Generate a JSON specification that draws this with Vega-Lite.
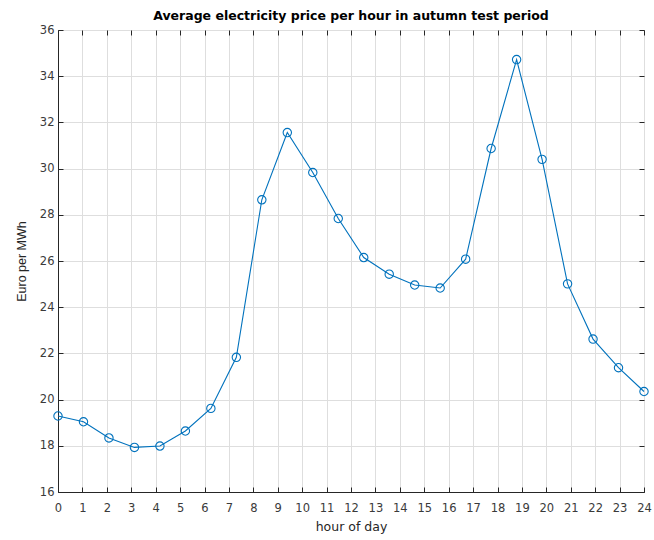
{
  "$schema": "https://vega.github.io/schema/vega-lite/v6.json",
  "width": 586,
  "height": 462,
  "autosize": {"type": "none"},
  "padding": {"left": 58, "top": 30, "right": 10, "bottom": 48},
  "background": "white",
  "title": {"text": "Average electricity price per hour in autumn test period", "font": "DejaVu Sans", "fontSize": 12.5, "fontWeight": "bold", "color": "#000000", "offset": 2, "anchor": "middle"},
  "data": {"values": [
    {"hour": 0.0, "price": 19.29},
    {"hour": 1.0435, "price": 19.04},
    {"hour": 2.0870, "price": 18.34},
    {"hour": 3.1304, "price": 17.93},
    {"hour": 4.1739, "price": 17.99},
    {"hour": 5.2174, "price": 18.64},
    {"hour": 6.2609, "price": 19.62},
    {"hour": 7.3043, "price": 21.83},
    {"hour": 8.3478, "price": 28.65},
    {"hour": 9.3913, "price": 31.56},
    {"hour": 10.4348, "price": 29.83},
    {"hour": 11.4783, "price": 27.84},
    {"hour": 12.5217, "price": 26.15},
    {"hour": 13.5652, "price": 25.43},
    {"hour": 14.6087, "price": 24.96},
    {"hour": 15.6522, "price": 24.83},
    {"hour": 16.6957, "price": 26.08},
    {"hour": 17.7391, "price": 30.87},
    {"hour": 18.7826, "price": 34.72},
    {"hour": 19.8261, "price": 30.40},
    {"hour": 20.8696, "price": 25.01},
    {"hour": 21.9130, "price": 22.62},
    {"hour": 22.9565, "price": 21.38},
    {"hour": 24.0, "price": 20.35}
  ]},
  "config": {
    "view": {"stroke": "#262626", "strokeWidth": 1},
    "axis": {"labelFont": "DejaVu Sans", "titleFont": "DejaVu Sans", "labelFontSize": 11.5, "titleFontSize": 12.5, "titleFontWeight": "normal", "labelColor": "#3a3a3a", "titleColor": "#262626", "domainColor": "#262626", "tickColor": "#262626", "gridColor": "#dedede", "gridWidth": 1}
  },
  "layer": [
    {
      "mark": {"type": "line", "color": "#0072BD", "strokeWidth": 1.1, "point": {"filled": false, "shape": "circle", "size": 70, "color": "#0072BD", "strokeWidth": 1.1}},
      "encoding": {
        "x": {"field": "hour", "type": "quantitative", "scale": {"domain": [0, 24], "nice": false, "zero": false},
              "axis": {"orient": "bottom", "title": "hour of day", "values": [0,1,2,3,4,5,6,7,8,9,10,11,12,13,14,15,16,17,18,19,20,21,22,23,24], "tickSize": -5, "labelPadding": 15, "titlePadding": 7, "grid": true, "labelFlush": false}},
        "y": {"field": "price", "type": "quantitative", "scale": {"domain": [16, 36], "nice": false, "zero": false},
              "axis": {"orient": "left", "title": "Euro per MWh", "titleFont": "Liberation Sans", "values": [16,18,20,22,24,26,28,30,32,34,36], "tickSize": -5, "labelPadding": 9, "titlePadding": 11, "grid": true, "labelFlush": false}}
      }
    },
    {
      "mark": {"type": "point", "opacity": 0},
      "encoding": {
        "x": {"field": "hour", "type": "quantitative", "axis": {"orient": "top", "title": null, "labels": false, "values": [0,1,2,3,4,5,6,7,8,9,10,11,12,13,14,15,16,17,18,19,20,21,22,23,24], "tickSize": -5, "grid": false, "domain": false}},
        "y": {"field": "price", "type": "quantitative", "axis": {"orient": "right", "title": null, "labels": false, "values": [16,18,20,22,24,26,28,30,32,34,36], "tickSize": -5, "grid": false, "domain": false}}
      }
    }
  ]
}
